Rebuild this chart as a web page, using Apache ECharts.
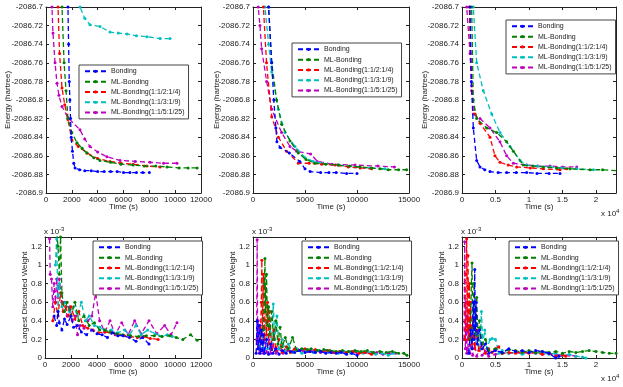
<!DOCTYPE html>
<html>
<head>
<meta charset="utf-8">
<script src="https://cdn.jsdelivr.net/npm/echarts@6/dist/echarts.min.js"></script>
<style>
  html, body { margin: 0; padding: 0; background: #fff; }
  #chart { width: 623px; height: 387px; }
</style>
</head>
<body>
<div id="chart"></div>
<script>
// series names and colours
var names = ['Bonding', 'ML-Bonding', 'ML-Bonding(1:1/2:1/4)', 'ML-Bonding(1:1/3:1/9)', 'ML-Bonding(1:1/5:1/25)'];
var colors = ['#0000ff', '#008000', '#ff0000', '#00bfbf', '#bf00bf'];

// panel A (top left): energy vs time [time s, energy hartree]
var eA_bond = [[1600,-2086.60],[1700,-2086.70],[1750,-2086.74],[1800,-2086.78],[1850,-2086.80],[1900,-2086.82],[1950,-2086.84],[2050,-2086.855],[2150,-2086.868],[2250,-2086.873],[2600,-2086.875],[3000,-2086.876],[3500,-2086.876],[4000,-2086.877],[4500,-2086.877],[5000,-2086.877],[5500,-2086.877],[6000,-2086.878],[6500,-2086.878],[7000,-2086.878],[7500,-2086.878],[8000,-2086.878]];
var eA_ml = [[1150,-2086.60],[1240,-2086.70],[1400,-2086.76],[1550,-2086.79],[1700,-2086.82],[2000,-2086.835],[2400,-2086.846],[2800,-2086.852],[3170,-2086.857],[3700,-2086.862],[4180,-2086.865],[5000,-2086.867],[5800,-2086.869],[6740,-2086.870],[7600,-2086.871],[8500,-2086.871],[9370,-2086.872],[10300,-2086.873],[11000,-2086.873],[11700,-2086.873]];
var eA_r2 = [[800,-2086.60],[930,-2086.70],[1050,-2086.75],[1240,-2086.787],[1450,-2086.805],[1700,-2086.821],[2000,-2086.843],[2500,-2086.85],[3170,-2086.857],[4000,-2086.863],[4950,-2086.866],[5800,-2086.868],[6740,-2086.869],[7800,-2086.871],[8830,-2086.872]];
var eA_r3 = [[2300,-2086.65],[2630,-2086.70],[3000,-2086.712],[3400,-2086.719],[4180,-2086.721],[4950,-2086.727],[5600,-2086.728],[6270,-2086.729],[7000,-2086.731],[7820,-2086.732],[8830,-2086.734],[9600,-2086.734]];
var eA_r5 = [[400,-2086.60],[460,-2086.70],[540,-2086.728],[700,-2086.76],[850,-2086.782],[1000,-2086.795],[1240,-2086.807],[1700,-2086.819],[2630,-2086.832],[3000,-2086.842],[3400,-2086.850],[4000,-2086.856],[4720,-2086.861],[5730,-2086.865],[6900,-2086.866],[8050,-2086.867],[9100,-2086.868],[10140,-2086.868]];

// panel B (top middle)
var eB_bond = [[1400,-2086.60],[1500,-2086.70],[1800,-2086.76],[2000,-2086.80],[2200,-2086.83],[2300,-2086.845],[2600,-2086.851],[3500,-2086.857],[4500,-2086.866],[5000,-2086.874],[5500,-2086.877],[6500,-2086.878],[7300,-2086.878],[8000,-2086.878],[9000,-2086.879],[10000,-2086.879]];
var eB_ml = [[1400,-2086.60],[1500,-2086.70],[1800,-2086.76],[2270,-2086.80],[2750,-2086.826],[3560,-2086.844],[4360,-2086.857],[5100,-2086.864],[5960,-2086.868],[7000,-2086.869],[8200,-2086.870],[9300,-2086.871],[10300,-2086.872],[11400,-2086.873],[12200,-2086.874],[13000,-2086.875],[14000,-2086.875],[14770,-2086.875]];
var eB_r2 = [[900,-2086.60],[1000,-2086.70],[1300,-2086.76],[1800,-2086.818],[2440,-2086.840],[3230,-2086.855],[4360,-2086.868],[5400,-2086.868],[6600,-2086.869],[7900,-2086.870],[9170,-2086.872],[10300,-2086.873],[11400,-2086.874]];
var eB_r3 = [[1050,-2086.60],[1150,-2086.70],[1500,-2086.74],[1800,-2086.77],[2440,-2086.81],[3070,-2086.835],[4040,-2086.850],[5000,-2086.862],[5800,-2086.866],[6600,-2086.868],[8200,-2086.870],[9810,-2086.872],[11200,-2086.873],[12700,-2086.874]];
var eB_r5 = [[400,-2086.60],[500,-2086.70],[670,-2086.72],[830,-2086.745],[1310,-2086.78],[1800,-2086.81],[2750,-2086.835],[3560,-2086.850],[4200,-2086.855],[5540,-2086.858],[6180,-2086.866],[7620,-2086.869],[9810,-2086.870],[12000,-2086.871],[13600,-2086.872]];

// panel C (top right)
var eC_bond = [[1100,-2086.60],[1190,-2086.70],[1400,-2086.78],[1690,-2086.83],[2190,-2086.865],[2690,-2086.872],[3400,-2086.875],[4180,-2086.877],[5400,-2086.878],[6670,-2086.878],[8100,-2086.878],[9660,-2086.878],[11200,-2086.879],[13000,-2086.879],[14640,-2086.879]];
var eC_ml = [[1300,-2086.60],[1440,-2086.70],[1690,-2086.80],[2190,-2086.82],[3680,-2086.83],[5180,-2086.835],[6670,-2086.845],[7670,-2086.855],[9160,-2086.870],[10600,-2086.871],[12150,-2086.872],[14100,-2086.873],[16130,-2086.874],[19130,-2086.875],[21000,-2086.875],[23110,-2086.876]];
var eC_r2 = [[1000,-2086.60],[1100,-2086.70],[1440,-2086.79],[1940,-2086.815],[2690,-2086.825],[4180,-2086.840],[4920,-2086.860],[5670,-2086.867],[6900,-2086.870],[8170,-2086.872],[10200,-2086.873],[12150,-2086.874],[14640,-2086.875],[15640,-2086.874]];
var eC_r3 = [[1550,-2086.60],[1690,-2086.70],[2190,-2086.76],[3180,-2086.79],[4430,-2086.815],[5670,-2086.835],[7170,-2086.850],[8660,-2086.865],[9660,-2086.870],[11300,-2086.871],[13150,-2086.872],[15000,-2086.873],[17130,-2086.874],[19630,-2086.875]];
var eC_r5 = [[600,-2086.60],[700,-2086.70],[1200,-2086.75],[1440,-2086.785],[1690,-2086.815],[2690,-2086.820],[4180,-2086.830],[5670,-2086.845],[6670,-2086.860],[7670,-2086.868],[9660,-2086.870],[11300,-2086.871],[13150,-2086.871],[15000,-2086.872],[17130,-2086.872]];

// panel D (bottom left): largest discarded weight, units of 1e-3
var wD_bond = [[700,0.45],[900,0.35],[1000,0.5],[1100,0.38],[1300,0.3],[1500,0.42],[1700,0.36],[2000,0.45],[2200,0.33],[2500,0.35],[2800,0.28],[3200,0.25],[3600,0.3],[4000,0.26],[4400,0.25],[4800,0.22],[5200,0.27],[5600,0.24],[6000,0.24],[6500,0.22],[7000,0.18],[7500,0.22],[8000,0.15]];
var wD_ml = [[900,1.35],[1000,1.2],[1100,0.9],[1200,1.3],[1300,0.7],[1500,0.5],[1700,0.6],[2000,0.45],[2300,0.6],[2600,0.4],[3000,0.45],[3400,0.35],[3800,0.38],[4200,0.3],[4600,0.3],[5000,0.28],[5500,0.26],[6000,0.25],[6600,0.24],[7200,0.23],[7800,0.24],[8400,0.24],[9000,0.23],[9600,0.24],[10100,0.22],[10600,0.2],[11200,0.25],[11700,0.19]];
var wD_r2 = [[600,0.4],[800,0.6],[1000,0.45],[1200,0.7],[1400,0.5],[1600,0.55],[1800,0.45],[2000,0.55],[2300,0.42],[2600,0.5],[2900,0.35],[3300,0.32],[3700,0.3],[4100,0.27],[4600,0.28],[5100,0.27],[5600,0.25],[6100,0.24],[6600,0.23],[7100,0.22],[7600,0.23],[8100,0.21],[8700,0.2]];
var wD_r3 = [[800,1.0],[900,1.28],[1000,0.5],[1100,0.8],[1300,0.55],[1600,0.6],[1900,0.5],[2200,0.55],[2500,0.45],[2800,0.6],[3100,0.4],[3400,0.45],[3800,0.35],[4200,0.33],[4600,0.3],[5100,0.3],[5600,0.27],[6100,0.3],[6500,0.25],[7000,0.35],[7400,0.25],[7900,0.3],[8500,0.26],[9000,0.23],[9400,0.25],[9800,0.23]];
var wD_r5 = [[350,1.28],[400,0.9],[500,0.85],[600,0.55],[700,0.8],[800,0.6],[900,0.85],[1000,0.65],[1100,0.85],[1300,0.6],[1500,0.6],[1700,0.45],[1900,0.55],[2100,0.4],[2300,0.45],[2500,0.25],[2700,0.35],[3000,0.32],[3300,0.4],[3600,0.45],[3900,0.7],[4200,0.4],[4600,0.28],[5000,0.4],[5400,0.25],[5900,0.38],[6400,0.25],[6900,0.4],[7400,0.26],[8000,0.4],[8600,0.26],[9200,0.35],[9700,0.25],[10150,0.38]];

// panel E (bottom middle)
var wE_bond = [[300,0.05],[400,0.4],[500,0.1],[600,0.35],[700,0.05],[800,0.3],[900,0.08],[1000,0.25],[1100,0.05],[1300,0.2],[1500,0.04],[1700,0.15],[1900,0.05],[2200,0.1],[2500,0.04],[2800,0.08],[3200,0.05],[3600,0.07],[4000,0.06],[4500,0.08],[5000,0.06],[5500,0.07],[6000,0.06],[6500,0.07],[7000,0.05],[7500,0.06],[8000,0.05],[8500,0.06],[9000,0.04],[9500,0.05],[10000,0.03]];
var wE_ml = [[1000,0.3],[1100,0.8],[1150,1.07],[1200,0.5],[1300,0.9],[1400,0.35],[1500,0.55],[1600,0.25],[1800,0.5],[2000,0.2],[2200,0.4],[2400,0.15],[2600,0.33],[2800,0.12],[3100,0.22],[3400,0.1],[3800,0.22],[4200,0.08],[4700,0.1],[5200,0.09],[5600,0.1],[6200,0.08],[6800,0.09],[7400,0.08],[8000,0.07],[8600,0.08],[9200,0.07],[9800,0.08],[10400,0.07],[11000,0.08],[11600,0.06],[12200,0.07],[12800,0.06],[13400,0.07],[14000,0.05],[14500,0.05],[14800,0.03]];
var wE_r2 = [[700,0.2],[800,0.6],[850,1.05],[900,0.3],[1000,0.9],[1100,0.2],[1200,0.75],[1300,0.25],[1400,0.6],[1500,0.15],[1600,0.5],[1800,0.1],[2000,0.3],[2200,0.08],[2500,0.2],[2800,0.06],[3200,0.12],[3600,0.06],[4000,0.1],[4500,0.08],[5000,0.1],[5500,0.07],[6000,0.09],[6600,0.07],[7200,0.08],[7800,0.06],[8400,0.07],[9000,0.06],[9600,0.07],[10200,0.05],[10800,0.06],[11400,0.04]];
var wE_r3 = [[600,0.1],[800,0.3],[1000,0.1],[1200,0.4],[1400,0.1],[1600,0.35],[1800,0.15],[1950,0.58],[2100,0.2],[2300,0.45],[2500,0.1],[2800,0.2],[3100,0.08],[3400,0.15],[3800,0.06],[4200,0.1],[4700,0.05],[5200,0.08],[5800,0.06],[6400,0.08],[7000,0.06],[7600,0.07],[8200,0.05],[8800,0.07],[9400,0.05],[10000,0.07],[10600,0.05],[11200,0.06],[11800,0.04],[12400,0.05],[13000,0.03],[13500,0.05]];
var wE_r5 = [[350,0.2],[400,1.27],[450,0.1],[500,0.4],[600,0.05],[700,0.35],[800,0.08],[900,0.3],[1000,0.05],[1100,0.25],[1300,0.06],[1500,0.2],[1700,0.05],[1900,0.15],[2200,0.05],[2500,0.1],[2900,0.05],[3300,0.08],[3800,0.07],[4300,0.09],[4800,0.08],[5300,0.07],[5900,0.08],[6500,0.06],[7100,0.08],[7700,0.06],[8300,0.07],[8900,0.05],[9500,0.07],[10100,0.05],[10700,0.06],[11300,0.05],[11900,0.06],[12500,0.04],[13100,0.05],[13700,0.05]];

// panel F (bottom right)
var wF_bond = [[1000,0.05],[1300,0.3],[1500,0.1],[1700,0.6],[1800,0.2],[1900,0.95],[2000,0.3],[2100,0.6],[2300,0.15],[2600,0.3],[3000,0.1],[3500,0.15],[4000,0.05],[5000,0.08],[6000,0.06],[7000,0.1],[8000,0.07],[9000,0.08],[10000,0.06],[11000,0.08],[12000,0.07],[13000,0.05],[14000,0.0],[14500,0.02]];
var wF_ml = [[1200,0.2],[1400,0.8],[1500,1.02],[1600,0.3],[1800,0.8],[2000,0.25],[2200,0.65],[2400,0.2],[2600,0.4],[3000,0.15],[3500,0.2],[4000,0.08],[5000,0.1],[6000,0.05],[7000,0.09],[8000,0.08],[9000,0.06],[10000,0.08],[11000,0.06],[12000,0.07],[13000,0.06],[14000,0.07],[15000,0.05],[16000,0.07],[17000,0.06],[18000,0.07],[19000,0.08],[20000,0.07],[21000,0.06],[22000,0.05],[23000,0.05]];
var wF_r2 = [[500,0.2],[600,0.9],[700,1.28],[800,0.3],[900,1.1],[1000,0.2],[1100,0.8],[1200,0.25],[1300,0.6],[1500,0.15],[1700,0.4],[1900,0.1],[2200,0.3],[2500,0.08],[3000,0.15],[3500,0.05],[4000,0.1],[4500,0.06],[5000,0.1],[5500,0.12],[6000,0.05],[7000,0.06],[8000,0.05],[9000,0.07],[10000,0.05],[11000,0.06],[12000,0.04],[13000,0.05],[14000,0.02],[15000,0.03],[15500,0.02]];
var wF_r3 = [[1500,0.1],[1800,0.4],[2100,0.15],[2400,0.3],[2700,0.1],[2900,0.5],[3100,0.15],[3400,0.3],[3700,0.1],[4200,0.2],[4500,0.21],[5000,0.2],[5500,0.05],[6000,0.08],[7000,0.05],[8000,0.06],[9000,0.04],[10000,0.06],[11000,0.05],[12000,0.06],[13000,0.04],[14000,0.05],[15000,0.03],[16000,0.04],[17000,0.02],[18000,0.01],[18500,0.0]];
var wF_r5 = [[300,0.2],[400,1.25],[500,0.1],[600,0.6],[700,0.05],[800,0.45],[900,0.08],[1000,0.35],[1200,0.05],[1400,0.25],[1600,0.03],[1900,0.15],[2200,0.02],[2600,0.1],[3000,0.03],[3500,0.07],[4000,0.02],[5000,0.04],[6000,0.05],[7000,0.05],[8000,0.06],[9000,0.05],[10000,0.06],[11000,0.05],[12000,0.04],[13000,0.05],[14000,0.04],[15000,0.03],[16000,0.03],[17000,0.02]];

var FONT = 'Liberation Sans';
var chart = echarts.init(document.getElementById('chart'));

var panels = [
  { grid: [46, 7, 155, 186],  xMax: 12000, xStep: 2000, energy: true,  legend: [79, 65],  data: [eA_bond, eA_ml, eA_r2, eA_r3, eA_r5] },
  { grid: [253, 7, 156, 186], xMax: 15000, xStep: 5000, energy: true,  legend: [292, 43], data: [eB_bond, eB_ml, eB_r2, eB_r3, eB_r5] },
  { grid: [462, 7, 154, 186], xMax: 23000, xStep: 5000, energy: true,  legend: [506, 20], data: [eC_bond, eC_ml, eC_r2, eC_r3, eC_r5], x1e4: true },
  { grid: [45, 237, 156, 121],  xMax: 12000, xStep: 2000, energy: false, legend: [93, 241],  data: [wD_bond, wD_ml, wD_r2, wD_r3, wD_r5] },
  { grid: [253, 237, 156, 121], xMax: 15000, xStep: 5000, energy: false, legend: [302, 241], data: [wE_bond, wE_ml, wE_r2, wE_r3, wE_r5] },
  { grid: [462, 237, 154, 121], xMax: 23000, xStep: 5000, energy: false, legend: [509, 241], data: [wF_bond, wF_ml, wF_r2, wF_r3, wF_r5], x1e4: true }
];

var grids = [], xAxes = [], yAxes = [], series = [], legends = [], graphics = [];

panels.forEach(function (p, i) {
  var g = p.grid;
  grids.push({ left: g[0], top: g[1], width: g[2], height: g[3], containLabel: false });
  var lbl = { fontSize: 8, color: '#222', fontFamily: FONT };
  var xFmt = p.x1e4 ? function (v) { return String(v / 10000); } : function (v) { return String(v); };
  var xBase = { type: 'value', gridIndex: i, min: 0, max: p.xMax, interval: p.xStep, splitLine: { show: false },
    axisLine: { onZero: false, lineStyle: { color: '#222', width: 1 } },
    axisTick: { inside: true, length: 3, lineStyle: { color: '#222' } } };
  xAxes.push(Object.assign({}, xBase, { position: 'bottom',
    axisLabel: Object.assign({ margin: 3, formatter: xFmt, showMaxLabel: p.xMax % p.xStep === 0 }, lbl) }));
  xAxes.push(Object.assign({}, xBase, { position: 'top', axisLabel: { show: false } }));

  var yMin = p.energy ? -2086.9 : 0;
  var yMax = p.energy ? -2086.7 : 1.3;
  var yStep = p.energy ? 0.02 : 0.2;
  var yFmt = function (v) { return String(Math.round(v * 100) / 100); };
  var yBase = { type: 'value', gridIndex: i, min: yMin, max: yMax, interval: yStep, splitLine: { show: false },
    axisLine: { onZero: false, lineStyle: { color: '#222', width: 1 } },
    axisTick: { inside: true, length: 3, lineStyle: { color: '#222' } } };
  yAxes.push(Object.assign({}, yBase, { position: 'left',
    axisLabel: Object.assign({ margin: 3, formatter: yFmt, showMaxLabel: p.energy }, lbl) }));
  yAxes.push(Object.assign({}, yBase, { position: 'right', axisLabel: { show: false } }));

  p.data.forEach(function (d, k) {
    series.push({
      name: names[k], type: 'line', xAxisIndex: 2 * i, yAxisIndex: 2 * i, data: d,
      symbol: 'circle', symbolSize: 3, clip: true, animation: false,
      itemStyle: { color: colors[k] },
      lineStyle: { color: colors[k], width: 1.3, type: [5, 3] },
      z: 5 - k
    });
  });

  legends.push({
    left: p.legend[0], top: p.legend[1], orient: 'vertical',
    data: names, itemWidth: 21, itemHeight: 4, itemGap: 1.6,
    padding: [2, 4, 2, 5], borderColor: '#444', borderWidth: 1, backgroundColor: '#fff',
    textStyle: { fontSize: 7, color: '#222', fontFamily: FONT, lineHeight: 8.7 }, selectedMode: false, z: 10
  });

  // axis titles
  var cx = g[0] + g[2] / 2;
  graphics.push({ type: 'text', x: cx, y: g[1] + g[3] + 14,
    style: { text: 'Time (s)', fontSize: 8, fill: '#222', fontFamily: FONT, align: 'center', verticalAlign: 'middle' } });
  var yName = p.energy ? 'Energy (hartree)' : 'Largest Discarded Weight';
  var yNameX = p.energy ? [8, 217, 425][i] : [25, 233, 442][i - 3];
  graphics.push({ type: 'text', x: yNameX, y: g[1] + g[3] / 2, rotation: Math.PI / 2,
    style: { text: yName, fontSize: 8, fill: '#222', fontFamily: FONT, align: 'center', verticalAlign: 'middle' } });
  if (p.x1e4) {
    graphics.push({ type: 'text', left: g[0] + g[2] - 15, top: g[1] + g[3] + 15,
      style: { text: 'x 10{s|4}', fontSize: 8, fill: '#222', fontFamily: FONT,
        rich: { s: { fontSize: 6, verticalAlign: 'top', padding: [0, 0, 6, 0], fontFamily: FONT, fill: '#222' } } } });
  }
  if (!p.energy) {
    graphics.push({ type: 'text', left: g[0] - 1, top: g[1] - 11,
      style: { text: 'x 10{s|-3}', fontSize: 8, fill: '#222', fontFamily: FONT,
        rich: { s: { fontSize: 6, verticalAlign: 'top', padding: [0, 0, 6, 0], fontFamily: FONT, fill: '#222' } } } });
  }
});

chart.setOption({
  backgroundColor: '#fff',
  animation: false,
  grid: grids,
  xAxis: xAxes,
  yAxis: yAxes,
  legend: legends,
  series: series,
  graphic: graphics
});
</script>
</body>
</html>
